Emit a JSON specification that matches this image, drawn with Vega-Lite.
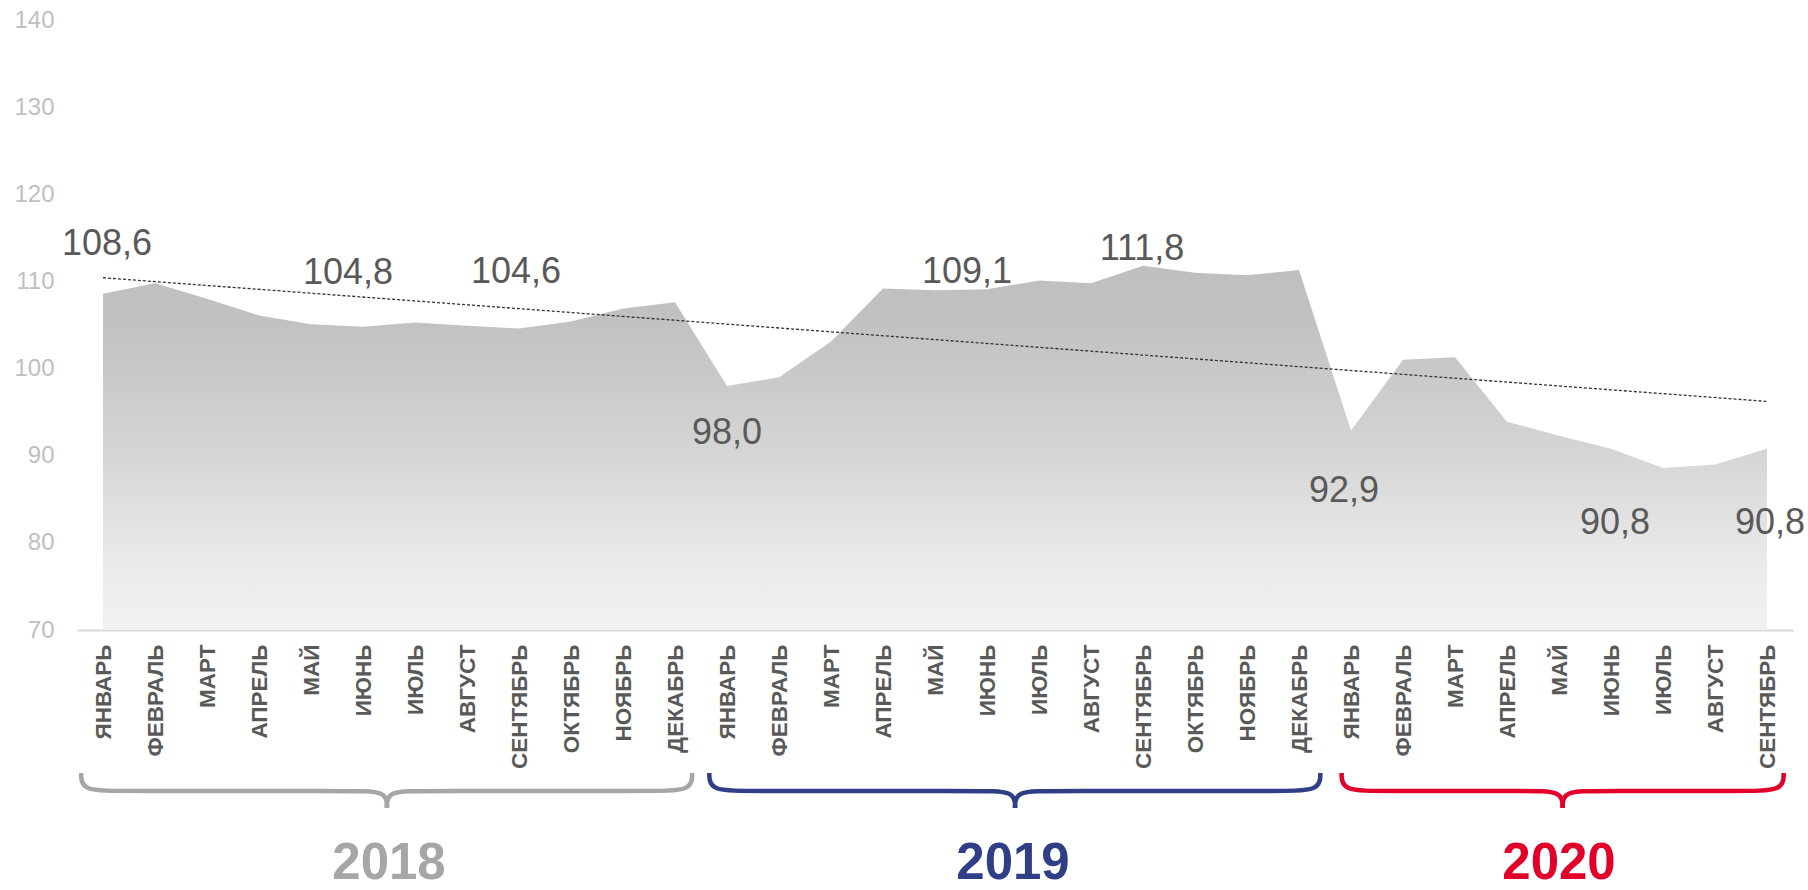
{
  "$schema": "https://vega.github.io/schema/vega-lite/v6.json",
  "padding": {"left": 13, "top": 8, "right": 16, "bottom": 0},
  "bounds": "flush",
  "spacing": 0,
  "background": "white",
  "config": {
    "view": {"stroke": null},
    "locale": {"number": {"decimal": ",", "thousands": "\u00a0", "grouping": [3], "currency": ["", ""]}}
  },
  "resolve": {"scale": {"x": "shared", "y": "independent"}},
  "datasets": {
    "months": [
      {"i": 0, "year": 2018, "month": "ЯНВАРЬ", "v": 108.6},
      {"i": 1, "year": 2018, "month": "ФЕВРАЛЬ", "v": 109.8},
      {"i": 2, "year": 2018, "month": "МАРТ", "v": 108.0},
      {"i": 3, "year": 2018, "month": "АПРЕЛЬ", "v": 106.1},
      {"i": 4, "year": 2018, "month": "МАЙ", "v": 105.1},
      {"i": 5, "year": 2018, "month": "ИЮНЬ", "v": 104.8},
      {"i": 6, "year": 2018, "month": "ИЮЛЬ", "v": 105.3},
      {"i": 7, "year": 2018, "month": "АВГУСТ", "v": 104.9},
      {"i": 8, "year": 2018, "month": "СЕНТЯБРЬ", "v": 104.6},
      {"i": 9, "year": 2018, "month": "ОКТЯБРЬ", "v": 105.4},
      {"i": 10, "year": 2018, "month": "НОЯБРЬ", "v": 106.9},
      {"i": 11, "year": 2018, "month": "ДЕКАБРЬ", "v": 107.6},
      {"i": 12, "year": 2019, "month": "ЯНВАРЬ", "v": 98.0},
      {"i": 13, "year": 2019, "month": "ФЕВРАЛЬ", "v": 99.0},
      {"i": 14, "year": 2019, "month": "МАРТ", "v": 103.1},
      {"i": 15, "year": 2019, "month": "АПРЕЛЬ", "v": 109.2},
      {"i": 16, "year": 2019, "month": "МАЙ", "v": 109.0},
      {"i": 17, "year": 2019, "month": "ИЮНЬ", "v": 109.1},
      {"i": 18, "year": 2019, "month": "ИЮЛЬ", "v": 110.1},
      {"i": 19, "year": 2019, "month": "АВГУСТ", "v": 109.8},
      {"i": 20, "year": 2019, "month": "СЕНТЯБРЬ", "v": 111.8},
      {"i": 21, "year": 2019, "month": "ОКТЯБРЬ", "v": 111.0},
      {"i": 22, "year": 2019, "month": "НОЯБРЬ", "v": 110.7},
      {"i": 23, "year": 2019, "month": "ДЕКАБРЬ", "v": 111.3},
      {"i": 24, "year": 2020, "month": "ЯНВАРЬ", "v": 92.9},
      {"i": 25, "year": 2020, "month": "ФЕВРАЛЬ", "v": 101.0},
      {"i": 26, "year": 2020, "month": "МАРТ", "v": 101.3},
      {"i": 27, "year": 2020, "month": "АПРЕЛЬ", "v": 93.9},
      {"i": 28, "year": 2020, "month": "МАЙ", "v": 92.3},
      {"i": 29, "year": 2020, "month": "ИЮНЬ", "v": 90.8},
      {"i": 30, "year": 2020, "month": "ИЮЛЬ", "v": 88.6},
      {"i": 31, "year": 2020, "month": "АВГУСТ", "v": 89.0},
      {"i": 32, "year": 2020, "month": "СЕНТЯБРЬ", "v": 90.8}
    ],
    "braces": [
      {"year": 2018, "part": "2018L", "o": 0, "bx": -0.42, "by": 143},
      {"year": 2018, "part": "2018L", "o": 1, "bx": -0.42, "by": 161},
      {"year": 2018, "part": "2018L", "o": 2, "bx": 0.38, "by": 161},
      {"year": 2018, "part": "2018L", "o": 3, "bx": 4.76, "by": 161},
      {"year": 2018, "part": "2018L", "o": 4, "bx": 5.46, "by": 161},
      {"year": 2018, "part": "2018L", "o": 5, "bx": 5.46, "by": 178},
      {"year": 2018, "part": "2018R", "o": 0, "bx": 5.46, "by": 178},
      {"year": 2018, "part": "2018R", "o": 1, "bx": 5.46, "by": 161},
      {"year": 2018, "part": "2018R", "o": 2, "bx": 6.16, "by": 161},
      {"year": 2018, "part": "2018R", "o": 3, "bx": 10.53, "by": 161},
      {"year": 2018, "part": "2018R", "o": 4, "bx": 11.33, "by": 161},
      {"year": 2018, "part": "2018R", "o": 5, "bx": 11.33, "by": 143},
      {"year": 2019, "part": "2019L", "o": 0, "bx": 11.66, "by": 143},
      {"year": 2019, "part": "2019L", "o": 1, "bx": 11.66, "by": 161},
      {"year": 2019, "part": "2019L", "o": 2, "bx": 12.46, "by": 161},
      {"year": 2019, "part": "2019L", "o": 3, "bx": 16.84, "by": 161},
      {"year": 2019, "part": "2019L", "o": 4, "bx": 17.54, "by": 161},
      {"year": 2019, "part": "2019L", "o": 5, "bx": 17.54, "by": 178},
      {"year": 2019, "part": "2019R", "o": 0, "bx": 17.54, "by": 178},
      {"year": 2019, "part": "2019R", "o": 1, "bx": 17.54, "by": 161},
      {"year": 2019, "part": "2019R", "o": 2, "bx": 18.24, "by": 161},
      {"year": 2019, "part": "2019R", "o": 3, "bx": 22.61, "by": 161},
      {"year": 2019, "part": "2019R", "o": 4, "bx": 23.41, "by": 161},
      {"year": 2019, "part": "2019R", "o": 5, "bx": 23.41, "by": 143},
      {"year": 2020, "part": "2020L", "o": 0, "bx": 23.82, "by": 143},
      {"year": 2020, "part": "2020L", "o": 1, "bx": 23.82, "by": 161},
      {"year": 2020, "part": "2020L", "o": 2, "bx": 24.62, "by": 161},
      {"year": 2020, "part": "2020L", "o": 3, "bx": 27.37, "by": 161},
      {"year": 2020, "part": "2020L", "o": 4, "bx": 28.07, "by": 161},
      {"year": 2020, "part": "2020L", "o": 5, "bx": 28.07, "by": 178},
      {"year": 2020, "part": "2020R", "o": 0, "bx": 28.07, "by": 178},
      {"year": 2020, "part": "2020R", "o": 1, "bx": 28.07, "by": 161},
      {"year": 2020, "part": "2020R", "o": 2, "bx": 28.77, "by": 161},
      {"year": 2020, "part": "2020R", "o": 3, "bx": 31.52, "by": 161},
      {"year": 2020, "part": "2020R", "o": 4, "bx": 32.32, "by": 161},
      {"year": 2020, "part": "2020R", "o": 5, "bx": 32.32, "by": 143}
    ]
  },
  "vconcat": [
    {
      "width": 1716,
      "height": 610,
      "data": {"name": "months"},
      "encoding": {
        "x": {
          "field": "i",
          "type": "quantitative",
          "scale": {"domain": [-0.5, 32.5], "nice": false, "zero": false},
          "axis": {
            "values": [0,1,2,3,4,5,6,7,8,9,10,11,12,13,14,15,16,17,18,19,20,21,22,23,24,25,26,27,28,29,30,31,32],
            "labelExpr": "['ЯНВАРЬ','ФЕВРАЛЬ','МАРТ','АПРЕЛЬ','МАЙ','ИЮНЬ','ИЮЛЬ','АВГУСТ','СЕНТЯБРЬ','ОКТЯБРЬ','НОЯБРЬ','ДЕКАБРЬ'][datum.value % 12]",
            "labelAngle": -90,
            "labelAlign": "right",
            "labelBaseline": "middle",
            "labelFont": "Liberation Sans",
            "labelFontWeight": "bold",
            "labelFontSize": 22.5,
            "labelColor": "#595959",
            "labelPadding": 14,
            "labelOverlap": false,
            "labelFlush": false,
            "labelBound": false,
            "ticks": false,
            "grid": false,
            "domainColor": "#d9d9d9",
            "domainWidth": 2,
            "title": null
          }
        },
        "y": {
          "field": "v",
          "type": "quantitative",
          "scale": {"domain": [70, 140], "nice": false, "zero": false},
          "axis": {
            "values": [70, 80, 90, 100, 110, 120, 130, 140],
            "domain": false,
            "ticks": false,
            "grid": false,
            "labelFont": "Liberation Sans",
            "labelFontSize": 24,
            "labelColor": "#c0c0c0",
            "labelPadding": 23,
            "title": null
          }
        }
      },
      "layer": [
        {
          "mark": {
            "type": "area",
            "line": false,
            "fill": {
              "gradient": "linear",
              "x1": 0, "y1": 0, "x2": 0, "y2": 1,
              "stops": [
                {"offset": 0, "color": "#bfbfbf"},
                {"offset": 0.15, "color": "#c1c1c1"},
                {"offset": 0.5, "color": "#d4d4d4"},
                {"offset": 0.8, "color": "#e9e9e9"},
                {"offset": 1, "color": "#f2f2f2"}
              ]
            }
          },
          "encoding": {"y2": {"datum": 70}}
        },
        {
          "transform": [{"regression": "v", "on": "i"}],
          "mark": {"type": "line", "color": "#333333", "strokeWidth": 1.3, "strokeDash": [3, 2]}
        },
        {
          "transform": [{"filter": {"field": "i", "oneOf": [0, 5, 8, 12, 17, 20, 24, 29, 32]}}],
          "mark": {
            "type": "text",
            "font": "Liberation Sans",
            "fontSize": 36,
            "color": "#595959",
            "align": "center",
            "baseline": "alphabetic",
            "dy": {"expr": "[-39,-43,-45,58,-6,-6,72,85,85][indexof([0,5,8,12,17,20,24,29,32], datum.i)]"},
            "dx": {"expr": "[4,-15,-3,0,-20,-1,-7,4,3][indexof([0,5,8,12,17,20,24,29,32], datum.i)]"}
          },
          "encoding": {"text": {"field": "v", "type": "quantitative", "format": ".1f"}}
        }
      ]
    },
    {
      "width": 1716,
      "height": 260,
      "layer": [
        {
          "data": {"name": "braces"},
          "mark": {"type": "line", "interpolate": "basis", "strokeWidth": 4.5},
          "encoding": {
            "x": {"field": "bx", "type": "quantitative", "scale": {"domain": [-0.5, 32.5], "nice": false, "zero": false}, "axis": null},
            "y": {"field": "by", "type": "quantitative", "scale": {"domain": [0, 260], "reverse": true, "nice": false, "zero": false}, "axis": null},
            "color": {"field": "year", "type": "nominal", "scale": {"domain": [2018, 2019, 2020], "range": ["#a6a6a6", "#2f3e86", "#e2002b"]}, "legend": null},
            "detail": {"field": "part"},
            "order": {"field": "o", "type": "quantitative"}
          }
        },
        {
          "data": {"name": "months"},
          "transform": [{"aggregate": [{"op": "mean", "field": "i", "as": "mid"}], "groupby": ["year"]}],
          "mark": {"type": "text", "font": "Liberation Sans", "fontWeight": "bold", "fontSize": 51, "align": "center", "baseline": "alphabetic"},
          "encoding": {
            "x": {"field": "mid", "type": "quantitative"},
            "y": {"datum": 249},
            "text": {"field": "year", "type": "nominal"},
            "color": {"field": "year", "type": "nominal", "legend": null}
          }
        }
      ]
    }
  ]
}
